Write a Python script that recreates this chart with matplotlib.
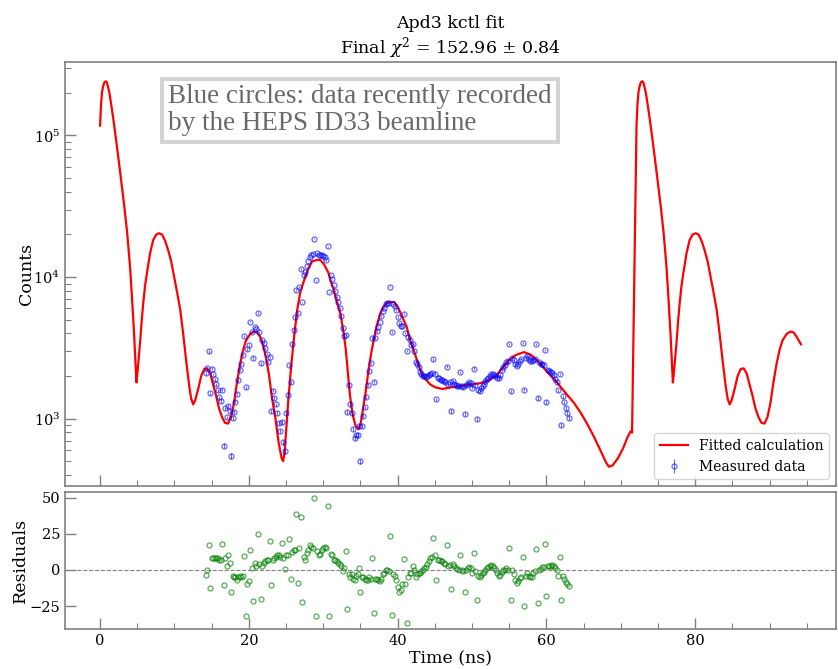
import numpy as np
import matplotlib
matplotlib.use("Agg")
import matplotlib.pyplot as plt
from matplotlib.ticker import MultipleLocator, LogLocator, NullFormatter

plt.rcParams["font.family"] = ["DejaVu Serif"]
plt.rcParams["mathtext.fontset"] = "dejavuserif"
plt.rcParams["font.size"] = 11

# fitted calculation (time in ns, counts)
fit_time = [0.0, 0.07, 0.13, 0.2, 0.27, 0.4, 0.54, 0.67, 0.81, 0.95, 1.08, 1.22, 1.35, 1.55,
            1.75, 1.95, 2.15, 2.69, 3.23, 3.63, 4.04, 4.31, 4.58, 4.89, 5.05, 5.2, 5.38, 5.58,
            5.79, 6.05, 6.33, 6.73, 7.13, 7.54, 7.94, 8.34, 8.75, 9.15, 9.56,
            9.96, 10.36, 10.77, 11.17, 11.57, 11.98, 12.25, 12.52, 12.79, 13.19, 13.59, 14.0,
            14.4, 14.8, 15.2, 15.6, 16.0, 16.4, 16.8, 17.2, 17.6, 18.0, 18.4, 18.8, 19.2, 19.6,
            20.2, 20.7, 21.1, 21.5, 21.9, 22.3, 22.7, 23.1, 23.6, 24.0, 24.4, 24.6, 24.8, 25.0,
            25.3, 25.7, 26.1, 26.5, 26.9, 27.5, 28.0, 28.5, 29.1, 29.6, 30.1, 30.7, 31.0, 31.4,
            31.8, 32.3, 32.75, 33.0, 33.2, 33.4, 33.6, 33.9, 34.3, 34.7, 35.0, 35.2, 35.5, 35.7,
            36.1, 36.5, 36.8, 37.2, 37.7, 38.1, 38.6, 39.5, 40.1, 40.6, 41.2, 41.7, 42.3, 42.8,
            43.3, 43.9, 44.4, 45.1, 46.0, 47.1, 48.5, 49.8, 51.1, 52.2, 53.2, 54.1, 54.9, 55.9,
            57.0, 57.9, 58.8, 59.6, 60.6, 61.5, 62.6, 63.7, 64.6, 65.5, 66.4, 67.3, 68.0, 68.4,
            68.9, 69.6, 70.3, 70.9, 71.3, 71.5,
            72.1, 72.17, 72.23, 72.3, 72.37, 72.5, 72.64, 72.77, 72.91, 73.05, 73.18, 73.32,
            73.45, 73.65, 73.85, 74.05, 74.25, 74.79, 75.33, 75.73, 76.14, 76.41, 76.68, 76.99,
            77.15, 77.3, 77.48, 77.68, 77.89, 78.15, 78.43, 78.83, 79.23, 79.64, 80.04,
            80.44, 80.85, 81.25, 81.66, 82.06, 82.46, 82.87, 83.27, 83.67, 84.08, 84.35, 84.62,
            84.89, 85.29, 85.69, 86.1, 86.5, 86.9, 87.3, 87.7, 88.1, 88.5, 88.9, 89.3, 89.7,
            90.1, 90.5, 90.9, 91.3, 91.7, 92.3, 92.8, 93.2, 93.6, 94.2]
fit_counts = [117500, 141300, 166000, 186200, 204200, 221300, 234400, 239900, 241500, 234400,
              218800, 204200, 186200, 158500, 134300, 112200, 93300, 55600, 32400, 20900,
              11600, 6870, 3880, 1800, 2190, 2690, 3470, 4790, 6460, 8710, 10960, 14790,
              18200, 19950, 20400, 19950, 18000, 15500, 12900, 10000, 7760, 5890, 3980, 2570,
              1700, 1380, 1260, 1350, 1620, 2000, 2240, 2265, 2090, 1740, 1445, 1175, 1023, 933,
              923, 1023, 1290, 1800, 2400, 3020, 3550, 3980, 4120, 4070, 3800, 3310, 2690, 2040,
              1410, 977, 676, 525, 501, 575, 813, 1350, 2400, 3890, 5890, 7760, 9770, 11500,
              12900, 13200, 13200, 12300, 10700, 9330, 8130, 6760, 5500, 3980, 3160, 2450, 1860,
              1445, 1100, 902, 841, 912, 1047, 1318, 1549, 2240, 3020, 3630, 4570, 5620, 6170,
              6610, 6680, 6030, 5250, 4470, 3550, 2880, 2400, 2040, 1860, 1740, 1660, 1620, 1660,
              1700, 1740, 1780, 1860, 2000, 2290, 2570, 2820, 2950, 2820, 2570, 2290, 2000, 1780,
              1510, 1290, 1100, 912, 741, 589, 490, 457, 468, 525, 617, 741, 813, 794,
              117500, 141300, 166000, 186200, 204200, 221300, 234400, 239900, 241500, 234400,
              218800, 204200, 186200, 158500, 134300, 112200, 93300, 55600, 32400, 20900,
              11600, 6870, 3880, 1800, 2190, 2690, 3470, 4790, 6460, 8710, 10960, 14790,
              18200, 19950, 20400, 19950, 18000, 15500, 12900, 10000, 7760, 5890, 3980, 2570,
              1700, 1380, 1260, 1350, 1620, 2000, 2240, 2265, 2090, 1740, 1445, 1175, 1023, 933,
              923, 1023, 1290, 1800, 2400, 3020, 3550, 3980, 4120, 4070, 3800, 3350]

# measured data, one bin every 0.2 ns
data_time = [14.2, 14.4, 14.6, 14.8, 15.0, 15.2, 15.4, 15.6, 15.8, 16.0,
             16.2, 16.4, 16.6, 16.8, 17.0, 17.2, 17.4, 17.6, 17.8, 18.0,
             18.2, 18.4, 18.6, 18.8, 19.0, 19.2, 19.4, 19.6, 19.8, 20.0,
             20.2, 20.4, 20.6, 20.8, 21.0, 21.2, 21.4, 21.6, 21.8, 22.0,
             22.2, 22.4, 22.6, 22.8, 23.0, 23.2, 23.4, 23.6, 23.8, 24.0,
             24.2, 24.4, 24.6, 24.8, 25.0, 25.2, 25.4, 25.6, 25.8, 26.0,
             26.2, 26.4, 26.6, 26.8, 27.0, 27.2, 27.4, 27.6, 27.8, 28.0,
             28.2, 28.4, 28.6, 28.8, 29.0, 29.2, 29.4, 29.6, 29.8, 30.0,
             30.2, 30.4, 30.6, 30.8, 31.0, 31.2, 31.4, 31.6, 31.8, 32.0,
             32.2, 32.4, 32.6, 32.8, 33.0, 33.2, 33.4, 33.6, 33.8, 34.0,
             34.2, 34.4, 34.6, 34.8, 35.0, 35.2, 35.4, 35.6, 35.8, 36.0,
             36.2, 36.4, 36.6, 36.8, 37.0, 37.2, 37.4, 37.6, 37.8, 38.0,
             38.2, 38.4, 38.6, 38.8, 39.0, 39.2, 39.4, 39.6, 39.8, 40.0,
             40.2, 40.4, 40.6, 40.8, 41.0, 41.2, 41.4, 41.6, 41.8, 42.0,
             42.2, 42.4, 42.6, 42.8, 43.0, 43.2, 43.4, 43.6, 43.8, 44.0,
             44.2, 44.4, 44.6, 44.8, 45.0, 45.2, 45.4, 45.6, 45.8, 46.0,
             46.2, 46.4, 46.6, 46.8, 47.0, 47.2, 47.4, 47.6, 47.8, 48.0,
             48.2, 48.4, 48.6, 48.8, 49.0, 49.2, 49.4, 49.6, 49.8, 50.0,
             50.2, 50.4, 50.6, 50.8, 51.0, 51.2, 51.4, 51.6, 51.8, 52.0,
             52.2, 52.4, 52.6, 52.8, 53.0, 53.2, 53.4, 53.6, 53.8, 54.0,
             54.2, 54.4, 54.6, 54.8, 55.0, 55.2, 55.4, 55.6, 55.8, 56.0,
             56.2, 56.4, 56.6, 56.8, 57.0, 57.2, 57.4, 57.6, 57.8, 58.0,
             58.2, 58.4, 58.6, 58.8, 59.0, 59.2, 59.4, 59.6, 59.8, 60.0,
             60.2, 60.4, 60.6, 60.8, 61.0, 61.2, 61.4, 61.6, 61.8, 62.0,
             62.2, 62.4, 62.6, 62.8, 63.0]
data_counts = [2090, 2265, 2980, 1510, 2250, 2070, 1900, 1750, 1590, 1415,
               1330, 1600, 645, 1180, 1020, 1230, 1130, 545, 1010, 1110,
               1320, 1500, 1860, 2200, 2430, 2800, 3810, 1670, 3080, 3330,
               4850, 4100, 2700, 4430, 4280, 5560, 4110, 2460, 3600, 3430,
               3150, 2860, 2520, 2730, 1130, 1570, 1400, 1260, 1100, 935,
               815, 945, 680, 590, 1100, 1480, 2400, 1810, 3340, 4250,
               5240, 8120, 5560, 8520, 11400, 6620, 10300, 10800, 12000, 13000,
               13900, 14400, 14600, 18700, 9460, 14700, 14300, 14400, 14400, 14150,
               13800, 13200, 16500, 7800, 10400, 9640, 8760, 8020, 7250, 6620,
               6030, 5330, 4370, 3860, 3890, 1120, 1730, 1260, 1100, 850,
               730, 770, 765, 880, 500, 885, 1050, 1200, 1410, 1730,
               2170, 2480, 3690, 1820, 3690, 4170, 4470, 4780, 5300, 5790,
               6090, 6430, 6610, 6540, 8560, 4120, 6420, 6280, 5850, 5220,
               4710, 4500, 4520, 5510, 4020, 3000, 3760, 3590, 3310, 3370,
               2990, 2520, 2430, 2300, 2140, 2060, 2010, 1990, 1980, 2010,
               2040, 2070, 2090, 2620, 2080, 1370, 1930, 1925, 1870, 1860,
               1830, 1800, 2330, 1745, 1800, 1130, 1830, 1770, 1730, 1700,
               1690, 2130, 1700, 1670, 1080, 1720, 1770, 1810, 1780, 1650,
               2250, 1720, 1000, 1590, 1560, 1640, 1700, 1770, 1830, 1900,
               1940, 2010, 2070, 2060, 2020, 2000, 1950, 1930, 2020, 2200,
               2320, 2390, 2510, 2540, 3350, 1560, 2690, 2600, 2420, 2350,
               2450, 2560, 2640, 3410, 1600, 2700, 2760, 2640, 2550, 2550,
               2610, 2630, 3370, 1400, 2500, 2450, 2450, 2390, 3060, 1310,
               2220, 2180, 2120, 2100, 2020, 1890, 1800, 1580, 2070, 900,
               1440, 1300, 1190, 1090, 1010]
residuals = [-3.5, 0, 17, -12.7, 8, 8, 8, 8, 8, 7,
             7, 18, -10.6, 8, 3, 10, 5, -15, -4, -5,
             -5, -7, -5, -4, -5, -4, 9.4, -31.6, -10, -8,
             13.7, 1, -21.7, 5, 3, 24.6, 4, -20, 3, 5,
             6, 7, 7, 20, -10.6, 7, 8, 9, 10, 10,
             9, 18.4, 8, 0.5, 10, 10, 21.7, -6, 12.5, 13.6,
             14, 38.5, -9.4, 15, 36.6, -22.4, 9, 7, 12, 14,
             17, 16, 15, 49.6, -32, 13, 10, 11, 14, 15,
             16, 15, 44.4, -32, 11, 10, 7, 7, 6, 5,
             4, 3, -1, 1, 13, -27, -3, -5, -3, -6,
             -7, -4, -3, 1, -15, -5, -5, -6, -7, -7,
             -5, -6, 8.3, -30, -6, -6, -7, -8, -6, -3,
             -2, 0, 0, -1, 23.6, -31, -3, -4, -7, -12,
             -15, -14, -10, 7.6, -10, -36.6, -5, -2, -2, 3,
             0, -5, -3, -2, -2.4, -1, 0, 1, 2, 4,
             6, 8, 9, 22.4, 10, -7, 7, 7, 6, 6,
             5, 4, 17, 2.4, 3.5, -13, 4, 2.4, 1.2, 0.5,
             0, 10.6, 0, -1, -15.3, 0, 1, 2, 1, -2.4,
             12, -1, -21, -4.2, -5.2, -3.5, -2.4, -1.2, 0, 1.2,
             1.9, 2.8, 3.5, 2.8, 1.2, 0, -2.4, -4.2, -3.5, -1.2,
             0, 0, 1, 0, 14.9, -21, 0, -2.8, -7, -9,
             -7.5, -5.9, -5, 9, -24.8, -4.2, -2.4, -4.2, -5.2, -4.7,
             -2.4, -1, 14.6, -23, 0, 0.5, 1.9, 2, 17.7, -18.4,
             2.4, 2.8, 2.8, 3.5, 2.8, 1, 0, -4.2, 9, -21,
             -4.2, -6.6, -8.3, -9.9, -11]

title = "Apd3 kctl fit\nFinal $\\chi^2$ = 152.96 ± 0.84"
note = "Blue circles: data recently recorded\nby the HEPS ID33 beamline"

fig = plt.figure(figsize=(8.38, 6.69), dpi=100)
ax = fig.add_axes([0.0776, 0.2735, 0.92, 0.6338])
axr = fig.add_axes([0.0776, 0.0598, 0.92, 0.2048], sharex=ax)

ax.plot(fit_time, fit_counts, color="red", lw=1.6, label="Fitted calculation")
ax.errorbar(data_time, data_counts, yerr=np.sqrt(data_counts), fmt="o", ms=3.6,
            mfc="none", mec="blue", mew=0.9, ecolor="blue", elinewidth=0.8,
            alpha=0.6, label="Measured data")
ax.set_yscale("log")
ax.set_ylabel("Counts", fontsize=12.5, labelpad=-1)
ax.set_title(title, fontsize=12.5)
ax.legend(loc="lower right", fontsize=10)
ax.text(0.134, 0.947, note, transform=ax.transAxes, ha="left", va="top",
        fontsize=19.5, family=["Liberation Serif", "DejaVu Serif"], color="dimgray",
        linespacing=1.08,
        bbox=dict(boxstyle="square,pad=0.22", fc="white", ec="lightgray", lw=3))

axr.plot(data_time, residuals, "o", ms=3.6, mfc="none", mec="green", mew=0.9, alpha=0.65)
axr.axhline(0, color="gray", ls="--", lw=0.8)
axr.set_ylabel("Residuals", fontsize=12.5, labelpad=0)
axr.set_xlabel("Time (ns)", fontsize=12.5, labelpad=2)

axr.xaxis.set_major_locator(MultipleLocator(20))
axr.xaxis.set_minor_locator(MultipleLocator(5))
axr.yaxis.set_major_locator(MultipleLocator(25))
ax.yaxis.set_major_locator(LogLocator(base=10))
ax.yaxis.set_minor_locator(LogLocator(base=10, subs=np.arange(2, 10)))
ax.yaxis.set_minor_formatter(NullFormatter())

for a in (ax, axr):
    a.tick_params(which="both", direction="in", color="gray", labelcolor="black",
                  labelsize=10.5, top=False, right=False)
    a.tick_params(which="major", length=8, width=1)
    a.tick_params(which="minor", length=4, width=0.8)
    for s in a.spines.values():
        s.set_edgecolor("gray")
        s.set_linewidth(1.2)
ax.tick_params(labelbottom=False)

fig.savefig("out.png", dpi=100)
